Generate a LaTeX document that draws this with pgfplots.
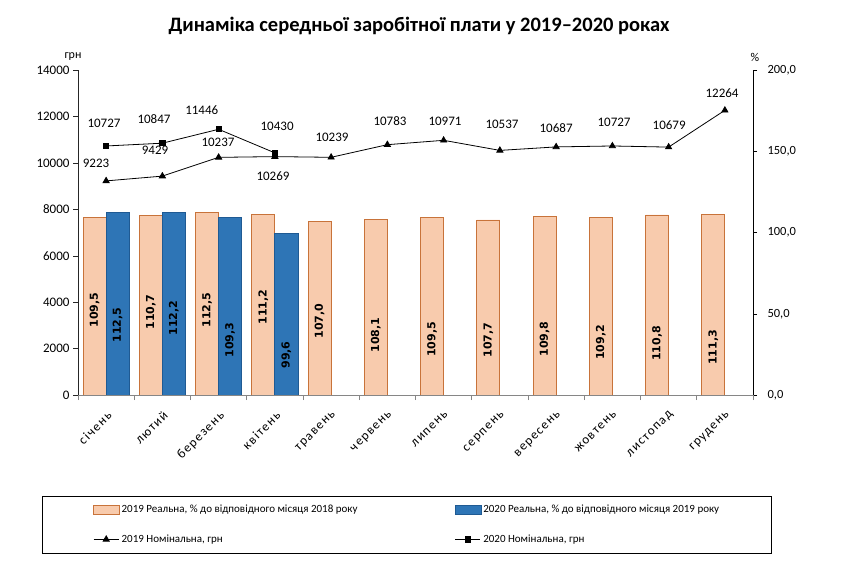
\documentclass[border=0pt]{standalone}
\usepackage{pgfplots}
\pgfplotsset{compat=1.18}
\usepackage{fontspec}
\setmainfont{Carlito}
\newfontfamily\dejavu{DejaVu Sans}
\newfontfamily\spaced[LetterSpace=10]{Carlito}
\definecolor{ofill}{HTML}{F8CBAD}
\definecolor{obord}{HTML}{C8733A}
\definecolor{bfill}{HTML}{2E75B6}
\definecolor{bbord}{HTML}{1F5A93}
\definecolor{axgray}{HTML}{868686}
\pgfplotsset{
  /pgf/number format/assume math mode=true,
  base/.style={scale only axis, width=675pt, height=325pt, at={(78pt,181pt)}, anchor=south west,
    xmin=-0.5, xmax=11.5, clip=false, tick align=outside, axis line style={-}},
  textlabel/.style={only marks, mark=*, mark size=0pt, mark options={draw=none,fill=none}, forget plot,
    nodes near coords, point meta=explicit,
    every node near coord/.append style={anchor=center, text=black, inner sep=0pt}},
  barlegend/.style={legend image code/.code={\draw[##1] (0pt,-4.5pt) rectangle (26pt,4.5pt);}},
  linelegend/.style={legend image code/.code={\draw[##1,mark repeat=2,mark phase=2] plot coordinates {(0pt,0pt) (12.5pt,0pt) (25pt,0pt)};}},
}
\begin{document}
\begin{tikzpicture}
\path[use as bounding box] (0pt,0pt) rectangle (844pt,576pt);
\node[anchor=base] at (419pt,544.5pt) {\fontsize{20.5}{24}\selectfont\bfseries Динаміка середньої заробітної плати у 2019–2020 роках};
\node at (73pt,519pt) {\fontsize{12}{13}\selectfont грн};
\node at (755pt,519pt) {\fontsize{12}{13}\selectfont \%};

% ---- bars on the right (percent) axis ----
\begin{axis}[base, ymin=0, ymax=200,
  axis x line=none, axis y line*=right,
  ytick={0,50,...,200}, major tick length=4pt,
  y axis line style={black}, ytick style={black},
  yticklabel style={font=\fontsize{12.5}{14}\selectfont, xshift=7pt, /pgf/number format/fixed, /pgf/number format/fixed zerofill, /pgf/number format/precision=1, /pgf/number format/use comma},
]
\addplot[ybar, bar width=0.41, bar shift=-0.205, fill=ofill, draw=obord, line width=0.8pt]
  coordinates {(0,109.5) (1,110.7) (2,112.5) (3,111.2) (4,107.0) (5,108.1) (6,109.5) (7,107.7) (8,109.8) (9,109.2) (10,110.8) (11,111.3)};
\addplot[ybar, bar width=0.41, bar shift=0.205, fill=bfill, draw=bbord, line width=0.8pt]
  coordinates {(0,112.5) (1,112.2) (2,109.3) (3,99.6)};
% value labels inside the bars
\addplot[textlabel, every node near coord/.append style={rotate=90, font=\dejavu\bfseries\fontsize{11}{13}\selectfont},
  nodes near coords={\pgfmathprintnumber[fixed,fixed zerofill,precision=1,use comma]{\pgfplotspointmeta}}]
  table[x=x, y=y, meta=v] {
  x y v
  -0.205 52.3 109.5
  0.795 51.1 110.7
  1.795 52.3 112.5
  2.795 54.2 111.2
  3.795 45.5 107.0
  4.795 36.9 108.1
  5.795 34.2 109.5
  6.795 33.8 107.7
  7.795 34.5 109.8
  8.795 32.3 109.2
  9.795 31.8 110.8
  10.795 29.2 111.3
  0.205 43.1 112.5
  1.205 47.4 112.2
  2.205 33.8 109.3
  3.205 24.6 99.6
};
\end{axis}

% ---- lines on the left (UAH) axis ----
\begin{axis}[base, ymin=0, ymax=14000,
  axis x line*=bottom, axis y line*=left,
  x axis line style={axgray, line width=0.8pt}, y axis line style={black!85},
  ytick={0,2000,...,14000}, ytick style={black!85}, major tick length=5pt,
  yticklabel style={font=\fontsize{13}{14}\selectfont, /pgf/number format/1000 sep={}},
  scaled y ticks=false,
  xtick={-0.5,0.5,...,11.5}, x tick label as interval,
  xtick style={axgray, line width=0.8pt},
  xticklabels={січень,лютий,березень,квітень,травень,червень,липень,серпень,вересень,жовтень,листопад,грудень},
  xticklabel style={font=\spaced\fontsize{13}{14}\selectfont, xshift=0pt, yshift=-10pt, rotate=45, anchor=north east, inner sep=0pt},
  legend columns=2, legend cell align=left,
  legend style={at={(-0.0533,-0.3107)}, anchor=north west, draw=black, line width=0.6pt,
    font=\fontsize{11}{13}\selectfont, inner xsep=51pt, inner ysep=7.5pt,
    nodes={inner sep=1.5pt}, /tikz/row sep=17.5pt,
    /tikz/every even column/.append style={column sep=96pt}},
]
\addlegendimage{barlegend, fill=ofill, draw=obord, line width=0.8pt}
\addlegendentry{2019 Реальна, \% до відповідного місяця 2018 року}
\addlegendimage{barlegend, fill=bfill, draw=bbord, line width=0.8pt}
\addlegendentry{2020 Реальна, \% до відповідного місяця 2019 року}
\addplot[black, line width=0.8pt, mark=triangle*, mark size=3.5pt, linelegend]
  coordinates {(0,9223) (1,9429) (2,10237) (3,10269) (4,10239) (5,10783) (6,10971) (7,10537) (8,10687) (9,10727) (10,10679) (11,12264)};
\addlegendentry{2019 Номінальна, грн}
\addplot[black, line width=0.8pt, mark=square*, mark size=2.6pt, linelegend]
  coordinates {(0,10727) (1,10847) (2,11446) (3,10430)};
\addlegendentry{2020 Номінальна, грн}
% value labels of the lines
\addplot[textlabel, every node near coord/.append style={font=\fontsize{13}{14}\selectfont},
  nodes near coords={\pgfmathprintnumber[fixed,precision=0,1000 sep={}]{\pgfplotspointmeta}}]
  table[x=x, y=y, meta=v] {
  x y v
  -0.18 9994 9223
  0.869 10554 9429
  1.989 10898 10237
  2.967 9434 10269
  4.016 11114 10239
  5.047 11803 10783
  6.024 11803 10971
  7.038 11674 10537
  8.0 11502 10687
  9.03 11760 10727
  10.01 11631 10679
  10.95 13009 12264
  -0.038 11717 10727
  0.851 11889 10847
  1.70 12277 11446
  3.04 11588 10430
};
\end{axis}
\end{tikzpicture}
\end{document}
